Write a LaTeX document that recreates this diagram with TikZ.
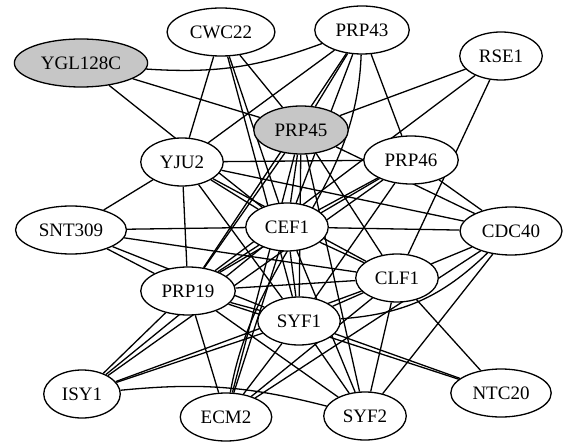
\documentclass[tikz,border=0pt]{standalone}
\usepackage{fontspec}
\setmainfont{Liberation Serif}
\newfontfamily\protfont{Liberation Serif}
\usetikzlibrary{shapes, backgrounds}
\tikzstyle{protein} = [ellipse, draw=black, fill=white, line width=1.3pt, inner xsep=7pt, inner ysep=0pt, minimum height=48pt, text centered, font=\protfont\fontsize{19}{21}\selectfont]
\tikzstyle{bait} = [protein, fill=gray!45]
\tikzstyle{line} = [draw, line width=1.3pt]

\begin{document}
\begin{tikzpicture}[x=1pt, y=-1pt]
    \useasboundingbox (0,0) rectangle (569,443);
    % Draw nodes
    % Top row
    \node (ygl) [bait] at (81,63) {YGL128C};
    \node (cwc) [protein] at (221,32) {CWC22};
    \node (prp43) [protein] at (362,30) {PRP43};
    \node (rse) [protein] at (501,56) {RSE1};

    % Middle
    \node (prp45) [bait] at (301,130) {PRP45};
    \node (yju) [protein] at (182,162) {YJU2};
    \node (prp46) [protein] at (411,160) {PRP46};
    \node (snt) [protein] at (71,230) {SNT309};
    \node (cef) [protein] at (287,227) {CEF1};
    \node (cdc) [protein] at (511,231) {CDC40};
    \node (clf) [protein] at (397,278) {CLF1};
    \node (prp19) [protein] at (188,291) {PRP19};
    \node (syf1) [protein] at (299,321) {SYF1};

    % Bottom row
    \node (isy) [protein] at (82,394) {ISY1};
    \node (ecm) [protein] at (226,417) {ECM2};
    \node (syf2) [protein] at (365,416) {SYF2};
    \node (ntc) [protein] at (501,393) {NTC20};

    % Draw lines
    \begin{scope}[on background layer]
    % YGL128C
    \path [line] (ygl) to[bend right=12] (prp43);
    \path [line] (ygl) -- (prp45);
    \path [line] (ygl) -- (cef);
    % CWC22
    \path [line] (cwc) -- (yju);
    \path [line] (cwc) -- (prp45);
    \path [line] (cwc) -- (cef);
    \path [line] (cwc) -- (syf1);
    % PRP43
    \path [line] (prp43) -- (yju);
    \path [line] (prp43) -- (prp45);
    \path [line] (prp43) -- (prp46);
    \path [line] (prp43) -- (cef);
    \path [line] (prp43) to[out=-92, in=80] (ecm);
    \path [line] (prp43) -- (prp19);
    % RSE1
    \path [line] (rse) -- (prp45);
    \path [line] (rse) -- (prp19);
    \path [line] (rse) -- (clf);
    % PRP45
    \path [line] (prp45) -- (cef);
    \path [line] (prp45) -- (clf);
    \path [line] (prp45) -- (syf1);
    \path [line] (prp45) -- (prp19);
    \path [line] (prp45) -- (syf2);
    \path [line] (prp45) -- (ecm);
    \path [line] (prp45) -- (cdc);
    % YJU2
    \path [line] (yju) -- (snt);
    \path [line] (yju) -- (prp19);
    \path [line] (yju) -- (prp46);
    \path [line] (yju) -- (cdc);
    \path [line] (yju) -- (cef);
    \path [line] (yju) -- (syf1);
    \path [line] (yju) -- (clf);
    % PRP46
    \path [line] (prp46) -- (cdc);
    \path [line] (prp46) -- (cef);
    \path [line] (prp46) -- (prp19);
    \path [line] (prp46) -- (isy);
    \path [line] (prp46) -- (syf1);
    % SNT309
    \path [line] (snt) -- (prp19);
    \path [line] (snt) -- (cef);
    \path [line] (snt) -- (clf);
    \path [line] (snt) -- (syf1);
    % CEF1
    \path [line] (cef) -- (cdc);
    \path [line] (cef) -- (clf);
    \path [line] (cef) -- (syf1);
    \path [line] (cef) -- (prp19);
    \path [line] (cef) -- (isy);
    \path [line] (cef) -- (ecm);
    \path [line] (cef) -- (syf2);
    % CLF1
    \path [line] (clf) -- (cdc);
    \path [line] (clf) -- (ntc);
    \path [line] (clf) -- (syf2);
    \path [line] (clf) -- (ecm);
    \path [line] (clf) -- (isy);
    \path [line] (clf) -- (syf1);
    \path [line] (clf) -- (prp19);
    % CDC40
    \path [line] (cdc) to[bend left=20] (syf1);
    \path [line] (cdc) -- (syf2);
    \path [line] (cdc) -- (ecm);
    % PRP19
    \path [line] (prp19) -- (isy);
    \path [line] (prp19) -- (ecm);
    \path [line] (prp19) -- (ntc);
    \path [line] (prp19) -- (syf2);
    \path [line] (prp19) -- (syf1);
    % SYF1
    \path [line] (syf1) -- (ntc);
    \path [line] (syf1) -- (syf2);
    \path [line] (syf1) -- (isy);
    \path [line] (syf1) -- (ecm);
    % ISY1
    \path [line] (isy) to[bend left=10] (syf2);
    \end{scope}
\end{tikzpicture}
\end{document}
